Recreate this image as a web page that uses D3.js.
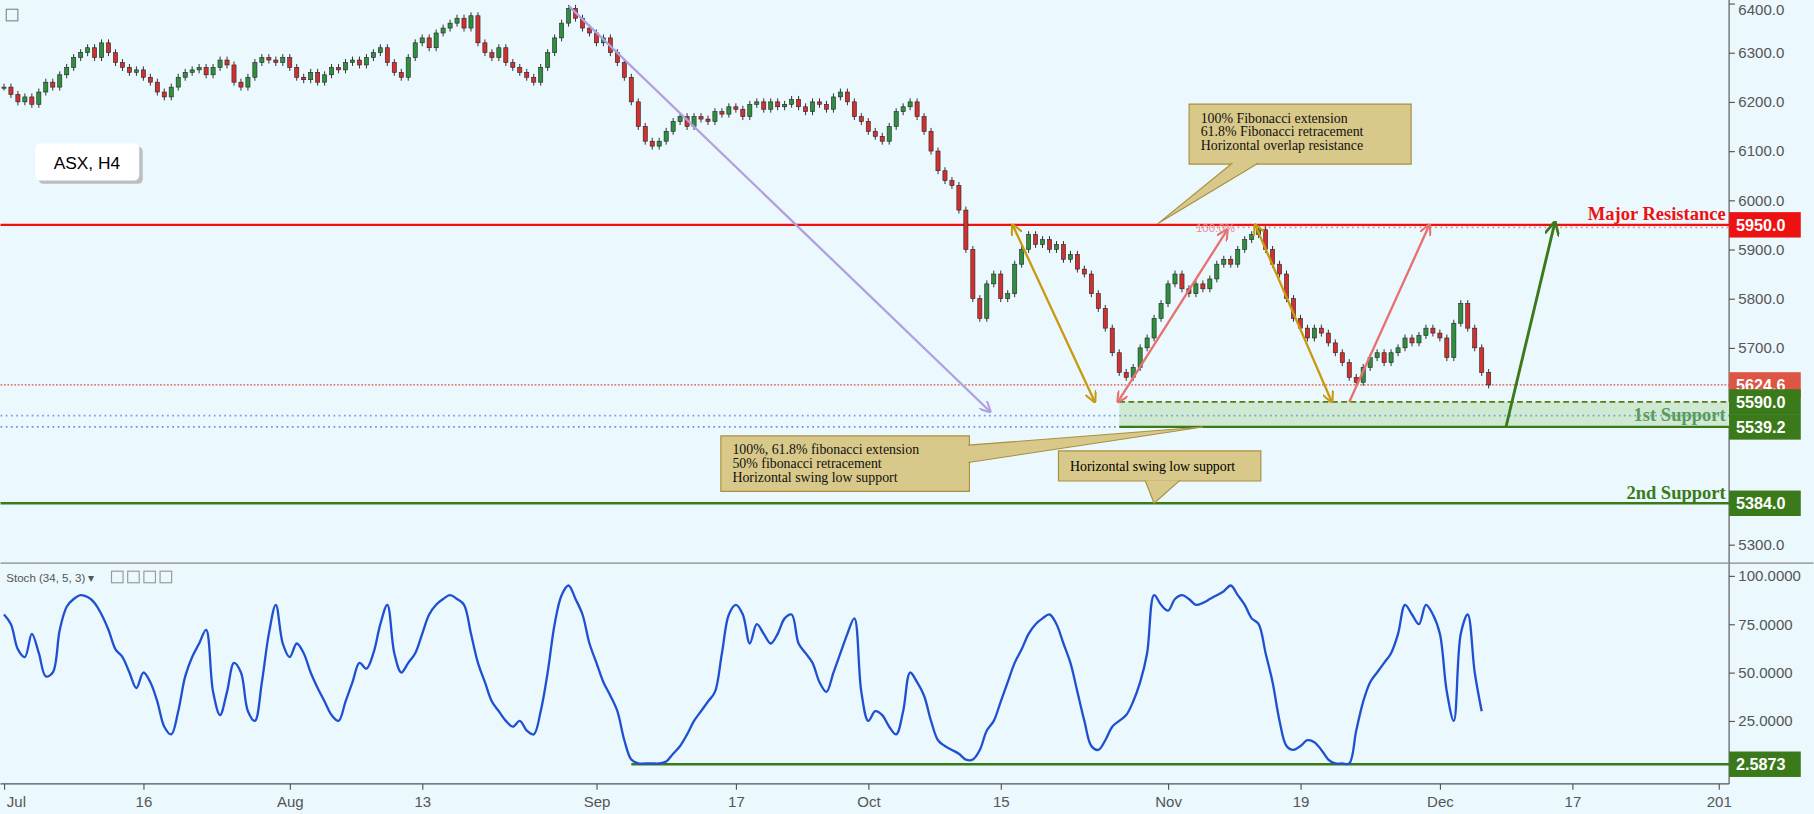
<!DOCTYPE html><html><head><meta charset="utf-8"><script src="https://cdn.jsdelivr.net/npm/d3@7"></script>
<style>body{margin:0;background:#ebf8fd}svg{display:block}</style></head><body><svg id="c" width="1814" height="814" viewBox="0 0 1568 704"></svg>
<script>
const closes=[6230,6215,6200,6210,6195,6220,6240,6230,6255,6270,
6290,6300,6310,6290,6320,6300,6280,6270,6260,6265,
6250,6240,6220,6210,6230,6250,6260,6265,6270,6255,
6270,6285,6275,6240,6230,6250,6280,6290,6285,6280,
6290,6270,6250,6245,6260,6240,6255,6270,6265,6280,
6285,6275,6290,6300,6310,6280,6260,6250,6290,6320,
6330,6310,6340,6350,6360,6370,6350,6375,6320,6300,
6290,6310,6280,6270,6260,6250,6240,6270,6300,6330,
6360,6390,6370,6350,6340,6320,6330,6300,6280,6250,
6200,6150,6120,6110,6120,6140,6160,6170,6150,6170,
6165,6160,6180,6175,6190,6185,6170,6195,6200,6185,
6200,6190,6195,6205,6190,6180,6200,6195,6185,6210,
6220,6200,6170,6160,6140,6130,6120,6150,6180,6190,
6200,6170,6140,6100,6060,6040,6030,5980,5900,5800,
5760,5830,5850,5800,5810,5870,5900,5930,5910,5920,
5900,5910,5880,5890,5860,5850,5810,5780,5740,5690,
5650,5640,5660,5700,5720,5760,5790,5830,5850,5820,
5810,5830,5820,5840,5870,5880,5870,5900,5920,5930,
5940,5900,5870,5850,5800,5760,5740,5720,5740,5730,
5710,5690,5670,5640,5630,5660,5680,5690,5670,5690,
5700,5720,5710,5725,5740,5730,5720,5680,5750,5790,
5740,5700,5650,5624.6];
const stoch=[80,75,62,58,70,60,48,50,72,84,
88,90,89,86,80,72,62,58,50,42,
50,45,35,22,18,30,48,58,65,72,
40,28,40,55,50,30,25,45,70,85,
65,58,65,60,50,42,35,28,25,35,
45,55,52,60,75,85,60,50,55,60,
70,80,85,88,90,88,85,70,55,45,
35,30,25,22,25,20,18,30,50,75,
90,95,88,80,65,55,45,38,30,15,
5,3,3,3,3,4,8,12,18,25,
30,35,40,60,80,85,80,65,75,70,
65,70,78,80,65,60,55,45,40,50,
60,70,78,40,25,30,28,22,18,30,
50,45,38,25,15,12,10,8,5,5,
10,20,25,35,45,55,62,70,75,78,
80,75,65,55,40,25,12,10,15,22,
25,28,35,45,60,90,85,82,88,90,
88,85,86,88,90,92,95,90,85,78,
75,60,45,25,12,10,12,15,14,10,
5,3,3,3,20,35,45,50,55,60,
70,85,80,75,85,80,70,40,25,70,
80,50,30];
const timeTicks=[[0,"Jul"],[20,"16"],[41,"Aug"],[60,"13"],[85,"Sep"],[105,"17"],[124,"Oct"],[143,"15"],[167,"Nov"],[186,"19"],[206,"Dec"],[225,"17"],[246,"201"]];
const priceTicks=[5300,5700,5800,5900,6000,6100,6200,6300,6400];
const stochTicks=[25,50,75,100];
const levels={res:5950,last:5624.6,s1a:5590,s1b:5539.2,s2:5384,st:2.5873};

const svg=d3.select("#c");
const AX=1495;
const x=d3.scaleLinear().domain([0,246]).range([3,1486]);
const y=d3.scaleLinear().domain([5300,6400]).range([471,3]);
const ys=d3.scaleLinear().domain([0,100]).range([665.3,498]);
svg.append("rect").attr("width",1568).attr("height",704).attr("fill","#ebf8fd");
const num=d3.format(".1f");
const pa=svg.append("g").attr("transform",`translate(${AX},0)`).call(d3.axisRight(y).tickValues(priceTicks).tickFormat(num).tickSize(5));
const sa=svg.append("g").attr("transform",`translate(${AX},0)`).call(d3.axisRight(ys).tickValues(stochTicks).tickFormat(d3.format(".4f")).tickSize(5));
const ta=svg.append("g").attr("transform",`translate(0,678)`).call(d3.axisBottom(x).tickValues(timeTicks.map(d=>d[0])).tickFormat((d,i)=>timeTicks[i][1]).tickSize(5));
[pa,sa,ta].forEach(g=>{g.select(".domain").remove();g.selectAll("line").attr("stroke","#555");g.selectAll("text").attr("fill","#555").attr("font-family","Liberation Sans, Arial").attr("font-size",13);});
ta.selectAll("text").attr("dy","0.9em");
pa.selectAll(".tick").filter(d=>d===6400).select("text").attr("dy","0.7em");
ta.selectAll(".tick").filter(d=>d===0).select("text").attr("text-anchor","start").attr("x",2);
svg.append("line").attr("x1",AX).attr("x2",AX).attr("y1",0).attr("y2",678).attr("stroke","#555");
svg.append("line").attr("x1",0).attr("x2",AX).attr("y1",678).attr("y2",678).attr("stroke","#555");
svg.append("line").attr("x1",0).attr("x2",1568).attr("y1",487).attr("y2",487).attr("stroke","#888");

const z0=x(160);
svg.append("rect").attr("x",z0).attr("width",AX-z0).attr("y",y(levels.s1a)).attr("height",y(levels.s1b)-y(levels.s1a)).attr("fill","#cfe9d3");
svg.append("line").attr("x1",0).attr("x2",AX).attr("y1",y(5562)).attr("y2",y(5562)).attr("stroke","#7a9fd6").attr("stroke-dasharray","1.5,3").attr("stroke-width",1.5);
svg.append("line").attr("x1",0).attr("x2",z0).attr("y1",y(levels.s1b)).attr("y2",y(levels.s1b)).attr("stroke","#6a95dd").attr("stroke-dasharray","1.5,3").attr("stroke-width",1.5);
svg.append("line").attr("x1",z0).attr("x2",AX).attr("y1",y(levels.s1b)).attr("y2",y(levels.s1b)).attr("stroke","#3a7a1a").attr("stroke-width",2);
svg.append("line").attr("x1",z0).attr("x2",AX).attr("y1",y(levels.s1a)).attr("y2",y(levels.s1a)).attr("stroke","#5a7a10").attr("stroke-dasharray","5,3").attr("stroke-width",1.5);
svg.append("line").attr("x1",0).attr("x2",AX).attr("y1",y(levels.last)).attr("y2",y(levels.last)).attr("stroke","#e05040").attr("stroke-dasharray","1.5,1.5");
svg.append("line").attr("x1",x(171)).attr("x2",AX).attr("y1",y(5945)).attr("y2",y(5945)).attr("stroke","#e89090").attr("stroke-dasharray","1.5,3").attr("stroke-width",1.5);
svg.append("line").attr("x1",0).attr("x2",AX).attr("y1",y(levels.res)).attr("y2",y(levels.res)).attr("stroke","#ee1111").attr("stroke-width",2);
svg.append("line").attr("x1",0).attr("x2",AX).attr("y1",y(levels.s2)).attr("y2",y(levels.s2)).attr("stroke","#3a7a1a").attr("stroke-width",2);
svg.append("line").attr("x1",x(90)).attr("x2",AX).attr("y1",ys(levels.st)).attr("y2",ys(levels.st)).attr("stroke","#3a7a1a").attr("stroke-width",2);
const serif="Liberation Serif, DejaVu Serif, serif";
svg.append("text").attr("x",AX-3).attr("y",y(levels.res)-4).attr("text-anchor","end").attr("fill","#ee1111").attr("font-family",serif).attr("font-weight","bold").attr("font-size",16).text("Major Resistance");
svg.append("text").attr("x",AX-3).attr("y",y(5562)+5).attr("text-anchor","end").attr("fill","#5a9a5a").attr("font-family",serif).attr("font-weight","bold").attr("font-size",16).text("1st Support");
svg.append("text").attr("x",AX-3).attr("y",y(levels.s2)-4).attr("text-anchor","end").attr("fill","#3a7a1a").attr("font-family",serif).attr("font-weight","bold").attr("font-size",16).text("2nd Support");
function tag(v,sc,c,t){svg.append("rect").attr("x",AX).attr("y",sc(v)-11).attr("width",62).attr("height",22).attr("fill",c);
svg.append("text").attr("x",AX+6).attr("y",sc(v)+5).attr("fill","#fff").attr("font-family","Liberation Sans, Arial").attr("font-weight","bold").attr("font-size",14).text(t);}
tag(levels.res,y,"#ee1111","5950.0");tag(levels.last,y,"#dd5544","5624.6");tag(levels.s1a,y,"#3a7a1a","5590.0");tag(levels.s1b,y,"#3a7a1a","5539.2");tag(levels.s2,y,"#3a7a1a","5384.0");tag(levels.st,ys,"#3a7a1a","2.5873");

const bw=3.6;
closes.forEach((c,i)=>{const o=i?closes[i-1]:c;const up=c>=o;const X=x(i);
const t=y(Math.max(o,c)),b=y(Math.min(o,c));
svg.append("line").attr("x1",X).attr("x2",X).attr("y1",t-3).attr("y2",b+3).attr("stroke","#222").attr("stroke-width",0.8);
svg.append("rect").attr("x",X-bw/2).attr("y",t).attr("width",bw).attr("height",Math.max(1,b-t)).attr("fill",up?"#2f8f3f":"#d03030").attr("stroke","#222").attr("stroke-width",0.5);});
svg.append("path").datum(stoch).attr("d",d3.line().x((d,i)=>x(i)).y(d=>ys(d)).curve(d3.curveCatmullRom)).attr("fill","none").attr("stroke","#1f50d0").attr("stroke-width",2);

const defs=svg.append("defs");
function mk(id,c){defs.append("marker").attr("id",id).attr("viewBox","0 0 10 10").attr("refX",9).attr("refY",5).attr("markerWidth",5).attr("markerHeight",5).attr("orient","auto-start-reverse").append("path").attr("d","M0,0L10,5L0,10").attr("fill","none").attr("stroke",c).attr("stroke-width",1.8);}
mk("pu","#b0a0e0");mk("go","#c89a10");mk("rd","#e87070");mk("gr","#3a7a1a");
function arr(a,b,c,m,both,w){svg.append("line").attr("x1",x(a[0])).attr("y1",y(a[1])).attr("x2",x(b[0])).attr("y2",y(b[1])).attr("stroke",c).attr("stroke-width",w||2).attr("marker-end",`url(#${m})`).attr("marker-start",both?`url(#${m})`:null);}
arr([81,6395],[141.5,5570],"#b0a0e0","pu",false,2);
arr([144.7,5950],[156.5,5590],"#c89a10","go",true);
arr([179.5,5950],[190.5,5590],"#c89a10","go",true);
arr([159.8,5590],[175.5,5940],"#e87070","rd",true);
arr([193,5590],[204.5,5950],"#e87070","rd",false);
arr([215.5,5540],[222.5,5955],"#3a7a1a","gr",false,2.5);
svg.append("text").attr("x",x(171)).attr("y",y(5950)+6).attr("fill","#e89090").attr("font-size",10).attr("font-family","Liberation Sans").text("100.0%");

function callout(bx,by,bw,bh,px,py,bx2,lines){svg.append("path").attr("d",`M${bx},${by}h${bw}v${bh}h${-bw}z`).attr("fill","#d8c98a").attr("stroke","#a89040");
svg.append("path").attr("d",`M${bx2[0]},${bx2[1]}L${px},${py}L${bx2[2]},${bx2[3]}`).attr("fill","#d8c98a").attr("stroke","#a89040");
lines.forEach((t,i)=>svg.append("text").attr("x",bx+10).attr("y",by+16+i*12).attr("font-family",serif).attr("font-size",12).attr("fill","#111").text(t));}
callout(1028,90,192,52,x(165.5),y(5952),[1025.5+40,141,1028+60,141],["100% Fibonacci extension","61.8% Fibonacci retracement","Horizontal overlap resistance"]);
callout(623,377,215,48,x(172),y(5539),[837,385,837,400],["100%, 61.8% fibonacci extension","50% fibonacci retracement","Horizontal swing low support"]);
svg.append("path").attr("d","M915,390h175v26h-175z").attr("fill","#d8c98a").attr("stroke","#a89040");
svg.append("path").attr("d",`M990,415.5L${x(165)},${y(5384)}L1020,415.5`).attr("fill","#d8c98a").attr("stroke","#a89040");
svg.append("text").attr("x",925).attr("y",407).attr("font-family",serif).attr("font-size",12).text("Horizontal swing low support");

svg.append("rect").attr("x",33).attr("y",127).attr("width",90).attr("height",32).attr("rx",4).attr("fill","#999").attr("opacity",0.6);
svg.append("rect").attr("x",30).attr("y",124).attr("width",90).attr("height",32).attr("rx",4).attr("fill","#fff");
svg.append("text").attr("x",46).attr("y",146).attr("font-family","Liberation Sans, Arial").attr("font-size",15).text("ASX, H4");
svg.append("text").attr("x",5).attr("y",503).attr("font-family","Liberation Sans, Arial").attr("font-size",10).attr("fill","#555").text("Stoch (34, 5, 3) ▾");
[96,110,124,138].forEach(a=>svg.append("rect").attr("x",a).attr("y",494).attr("width",10).attr("height",10).attr("fill","none").attr("stroke","#999"));
svg.append("rect").attr("x",5).attr("y",8).attr("width",10).attr("height",10).attr("fill","none").attr("stroke","#888");
</script></body></html>
